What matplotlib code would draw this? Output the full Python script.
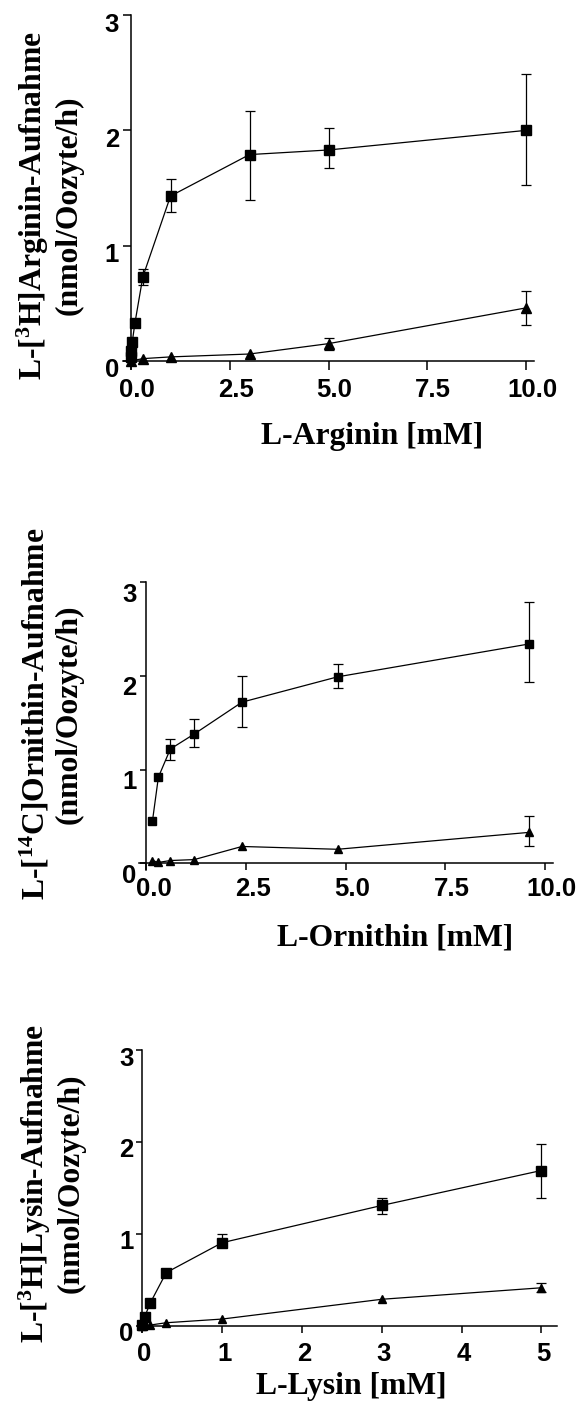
import matplotlib
matplotlib.use('Agg')
import matplotlib.pyplot as plt
import matplotlib.transforms as mtransforms
import numpy as np

plt.rcParams['mathtext.fontset'] = 'custom'
plt.rcParams['mathtext.rm'] = 'Liberation Serif:bold'
plt.rcParams['mathtext.it'] = 'Liberation Serif:bold'
plt.rcParams['mathtext.bf'] = 'Liberation Serif:bold'

# --- L-Arginin ---
arg_sq_x = [0, 0.01, 0.03, 0.1, 0.3, 1, 3, 5, 10]
arg_sq_y = [0.03, 0.09, 0.16, 0.33, 0.73, 1.43, 1.79, 1.83, 2.0]
arg_sq_lo = [0, 0, 0, 0, 0.07, 0.14, 0.39, 0.16, 0.47]
arg_sq_hi = [0, 0, 0, 0, 0.07, 0.15, 0.38, 0.19, 0.49]
arg_tr_x = [0, 0.3, 1, 3, 5, 10]
arg_tr_y = [0.0, 0.02, 0.035, 0.06, 0.15, 0.46]
arg_tr_lo = [0, 0, 0, 0, 0.055, 0.15]
arg_tr_hi = [0, 0, 0, 0, 0.05, 0.15]

# --- L-Ornithin ---
orn_x = [0.15, 0.3, 0.6, 1.2, 2.4, 4.8, 9.6]
orn_sq_y = [0.45, 0.92, 1.22, 1.38, 1.72, 1.99, 2.34]
orn_sq_lo = [0, 0, 0.12, 0.14, 0.27, 0.12, 0.41]
orn_sq_hi = [0, 0, 0.11, 0.16, 0.28, 0.14, 0.45]
orn_tr_y = [0.03, 0.01, 0.03, 0.04, 0.18, 0.15, 0.33]
orn_tr_lo = [0, 0, 0, 0, 0, 0, 0.15]
orn_tr_hi = [0, 0, 0, 0, 0, 0, 0.17]

# --- L-Lysin ---
lys_sq_x = [0, 0.03, 0.1, 0.3, 1, 3, 5]
lys_sq_y = [0.01, 0.1, 0.25, 0.58, 0.905, 1.31, 1.69]
lys_sq_lo = [0, 0, 0, 0, 0.04, 0.09, 0.30]
lys_sq_hi = [0, 0, 0, 0, 0.095, 0.08, 0.29]
lys_tr_x = [0, 0.1, 0.3, 1, 3, 5]
lys_tr_y = [0.0, 0.01, 0.035, 0.075, 0.29, 0.415]
lys_tr_lo = [0, 0, 0, 0, 0, 0.045]
lys_tr_hi = [0, 0, 0, 0, 0, 0.055]

arg_xticks = [0, 2.5, 5, 7.5, 10]
arg_xticklabels = ['0.0', '2.5', '5.0', '7.5', '10.0']
lys_xticks = [0, 1, 2, 3, 4, 5]
lys_xticklabels = ['0', '1', '2', '3', '4', '5']
yticks = [0, 1, 2, 3]
yticklabels = ['0', '1', '2', '3']

W, H = 584, 1407
fig = plt.figure(figsize=(W / 100, H / 100), dpi=100)

def px_axes(left, top, right, bottom):
    return fig.add_axes([left / W, 1 - bottom / H, (right - left) / W, (bottom - top) / H])

tickfont = dict(family='Liberation Sans', weight='bold', size=18.5)
labelfont = dict(family='Liberation Serif', weight='bold', size=22.8)

def series(ax, x, y, lo, hi, marker, ms):
    x = np.array(x); y = np.array(y); lo = np.array(lo); hi = np.array(hi)
    ax.plot(x, y, color='black', lw=0.9, marker=marker, ms=ms, mec='black', mfc='black',
            clip_on=False, zorder=3)
    m = (lo > 0) | (hi > 0)
    ax.errorbar(x[m], y[m], yerr=[lo[m], hi[m]], fmt='none', ecolor='black',
                elinewidth=0.9, capsize=3.5, capthick=0.9, clip_on=False, zorder=2)

def style(ax, xlim, xt, xtl, ylabel, xlabel, ylab_xy, xlab_xy, ydown, xright, xpad, ylen, xlen):
    ax.set_xlim(*xlim)
    ax.set_ylim(-0.07, 3)
    for s in ['top', 'right']:
        ax.spines[s].set_visible(False)
    ax.spines['left'].set_position(('data', 0))
    ax.spines['bottom'].set_position(('data', 0))
    for s in ['left', 'bottom']:
        ax.spines[s].set_linewidth(1.1)
    ax.set_xticks(xt)
    ax.set_xticklabels(xtl, fontdict=tickfont)
    ax.set_yticks(yticks)
    ax.set_yticklabels(yticklabels, fontdict=tickfont)
    ax.tick_params(axis='y', direction='out', length=ylen, width=1.1, pad=2.5)
    ax.tick_params(axis='x', direction='out', length=xlen, width=1.1, pad=xpad)
    for lab in ax.get_yticklabels():
        lab.set_transform(lab.get_transform() +
                          mtransforms.ScaledTranslation(0, -ydown / 100, fig.dpi_scale_trans))
    for lab in ax.get_xticklabels():
        lab.set_transform(lab.get_transform() +
                          mtransforms.ScaledTranslation(xright / 100, 0, fig.dpi_scale_trans))
    ax.set_ylabel(ylabel, va='center', ha='center', multialignment='center',
                  linespacing=1.15, **labelfont)
    ax.yaxis.set_label_coords(*ylab_xy)
    ax.set_xlabel(xlabel, va='center', **labelfont)
    ax.xaxis.set_label_coords(*xlab_xy)

# panel 1
ax1 = px_axes(123.1, 15.1, 533.9, 369)
series(ax1, arg_sq_x, arg_sq_y, arg_sq_lo, arg_sq_hi, 's', 7.7)
series(ax1, arg_tr_x, arg_tr_y, arg_tr_lo, arg_tr_hi, '^', 7.5)
style(ax1, (-0.2, 10.2), arg_xticks, arg_xticklabels,
      'L-[$^{3}$H]Arginin-Aufnahme\n(nmol/Oozyte/h)', 'L-Arginin [mM]',
      (-0.180, 0.463), (0.606, -0.192), 7, 6, 6, 6, 6.5)

# panel 2
ax2 = px_axes(138.5, 582.2, 552.5, 869.9)
series(ax2, orn_x, orn_sq_y, orn_sq_lo, orn_sq_hi, 's', 6.2)
series(ax2, orn_x, orn_tr_y, orn_tr_lo, orn_tr_hi, '^', 5.2)
style(ax2, (-0.2, 10.2), arg_xticks, arg_xticklabels,
      'L-[$^{14}$C]Ornithin-Aufnahme\n(nmol/Oozyte/h)', 'L-Ornithin [mM]',
      (-0.211, 0.542), (0.620, -0.237), 10, 7, 5, 4.5, 5)

# panel 3
ax3 = px_axes(138.3, 1050, 557.3, 1332.4)
series(ax3, lys_sq_x, lys_sq_y, lys_sq_lo, lys_sq_hi, 's', 6.5)
series(ax3, lys_tr_x, lys_tr_y, lys_tr_lo, lys_tr_hi, '^', 5.2)
style(ax3, (-0.05, 5.2), lys_xticks, lys_xticklabels,
      'L-[$^{3}$H]Lysin-Aufnahme\n(nmol/Oozyte/h)', 'L-Lysin [mM]',
      (-0.208, 0.529), (0.509, -0.192), 6, 2, 6.5, 4, 5)

fig.savefig('out.png', dpi=100)
